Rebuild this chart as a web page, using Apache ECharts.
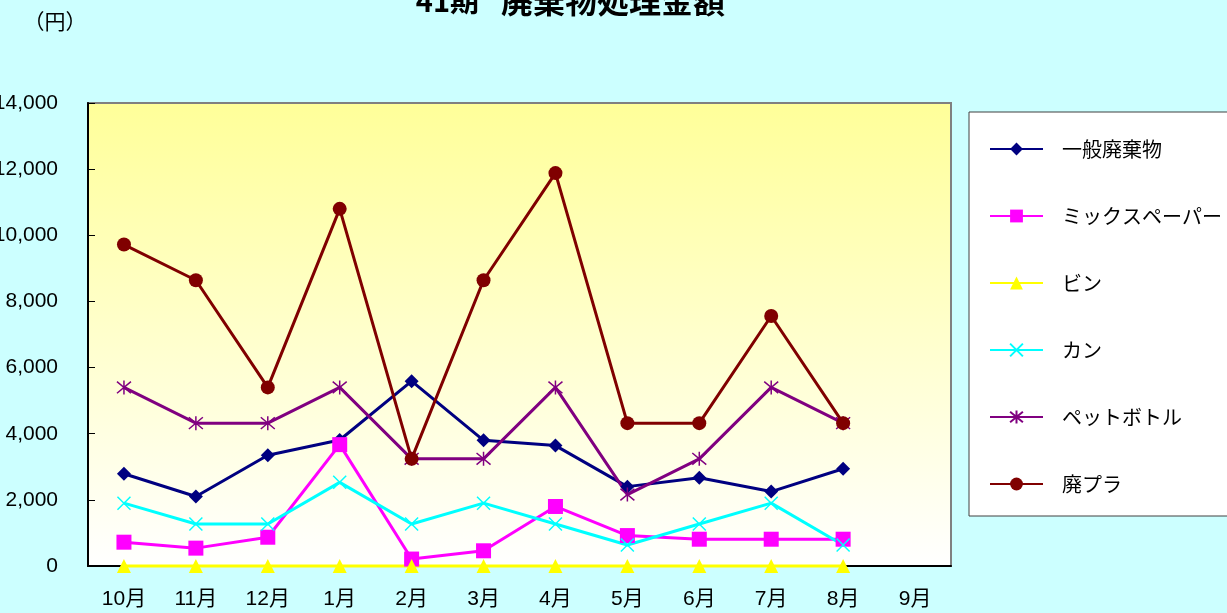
<!DOCTYPE html>
<html lang="ja">
<head>
    <meta charset="UTF-8">
    <script src="https://cdn.jsdelivr.net/npm/echarts@6/dist/echarts.min.js"></script>
    <title>41期 廃棄物処理金額</title>
    <style>
        html, body {
            margin: 0;
            padding: 0;
            background: #ccffff;
        }
        #main {
            width: 1227px;
            height: 613px;
        }
    </style>
</head>
<body>
<div id="main"></div>

<script>
    // 月（9月はまだデータなし）
    var months = ['10月', '11月', '12月', '1月', '2月', '3月', '4月', '5月', '6月', '7月', '8月', '9月']

    // 各品目の処理金額（円）
    var ippan = [2790, 2100, 3350, 3810, 5590, 3800, 3640, 2400, 2670, 2250, 2940]
    var mixPaper = [720, 540, 870, 3670, 210, 460, 1800, 920, 810, 810, 810]
    var bin = [0, 0, 0, 0, 0, 0, 0, 0, 0, 0, 0]
    var kan = [1900, 1270, 1270, 2530, 1270, 1900, 1270, 635, 1270, 1900, 635]
    var petBottle = [5400, 4320, 4320, 5400, 3240, 3240, 5400, 2160, 3240, 5400, 4320]
    var haiPura = [9720, 8640, 5400, 10800, 3240, 8640, 11880, 4320, 4320, 7560, 4320]

    var yMin = 0, yMax = 14000, yStep = 2000

    var fontFamily = "'Liberation Sans', 'Noto Sans CJK JP', sans-serif"
    var jpFont = "'Noto Sans CJK JP', sans-serif"

    var crossPath = 'path://M0,0L10,10M0,10L10,0'
    var starPath = 'path://M0,0L10,10M0,10L10,0M5,-1L5,11'

    function lineSeries(name, data, color, symbol, size, stroked) {
        return {
            name: name,
            type: 'line',
            data: data,
            symbol: symbol,
            symbolSize: size,
            showAllSymbol: true,
            clip: false,
            lineStyle: {color: color, width: 3},
            itemStyle: stroked
                ? {color: 'rgba(0,0,0,0)', borderColor: color, borderWidth: 1.5}
                : {color: color, borderWidth: 0},
            emphasis: {disabled: true}
        }
    }

    var myChart = echarts.init(document.getElementById('main'), null, {renderer: 'canvas'});

    var option = {
        backgroundColor: '#ccffff',
        animation: false,
        graphic: [
            // タイトル（上が切れている）
            {
                type: 'text',
                x: 479,
                y: 1,
                style: {
                    text: '41期',
                    font: 'bold 29px ' + jpFont,
                    fill: '#000',
                    align: 'right',
                    verticalAlign: 'middle'
                }
            },
            {
                type: 'text',
                x: 501,
                y: 1,
                style: {
                    text: '廃棄物処理金額',
                    font: 'bold 32px ' + jpFont,
                    fill: '#000',
                    align: 'left',
                    verticalAlign: 'middle'
                }
            },
            {
                type: 'text',
                x: 55,
                y: 21,
                style: {
                    text: '（円）',
                    font: '21px ' + jpFont,
                    fill: '#000',
                    align: 'center',
                    verticalAlign: 'middle'
                }
            }
        ],
        legend: {
            orient: 'vertical',
            left: 969,
            top: 112,
            padding: [27, 40, 22, 20],
            itemWidth: 53,
            itemHeight: 16,
            itemGap: 47,
            backgroundColor: '#ffffff',
            borderColor: '#404040',
            borderWidth: 1,
            textStyle: {
                fontFamily: jpFont,
                fontSize: 20,
                lineHeight: 20,
                color: '#000',
                padding: [0, 0, 0, 14]
            },
            selectedMode: false
        },
        grid: {
            left: 88,
            top: 103,
            right: 276,
            bottom: 47,
            outerBoundsMode: 'none',
            containLabel: false,
            show: true,
            borderColor: '#808080',
            borderWidth: 2,
            backgroundColor: {
                type: 'linear',
                x: 0, y: 0, x2: 0, y2: 1,
                colorStops: [
                    {offset: 0, color: '#ffff99'},
                    {offset: 1, color: '#ffffff'}
                ]
            }
        },
        xAxis: {
            type: 'category',
            data: months,
            boundaryGap: true,
            axisLine: {lineStyle: {color: '#000', width: 2}},
            axisTick: {inside: true, length: 7, lineStyle: {color: '#000', width: 1}},
            axisLabel: {
                color: '#000',
                fontFamily: fontFamily,
                fontSize: 21,
                margin: 23,
                interval: 0
            },
            splitLine: {show: false}
        },
        yAxis: {
            type: 'value',
            min: yMin,
            max: yMax,
            interval: yStep,
            axisLine: {show: true, lineStyle: {color: '#000', width: 2}},
            axisTick: {show: true, inside: true, length: 7, lineStyle: {color: '#000', width: 1}},
            axisLabel: {
                color: '#000',
                fontFamily: fontFamily,
                fontSize: 21,
                margin: 30,
                formatter: function (v) {
                    return v.toLocaleString('en-US')
                }
            },
            splitLine: {show: false}
        },
        series: [
            lineSeries('一般廃棄物', ippan, '#000080', 'diamond', 14, false),
            lineSeries('ミックスペーパー', mixPaper, '#ff00ff', 'rect', 15, false),
            lineSeries('ビン', bin, '#ffff00', 'triangle', 14, false),
            lineSeries('カン', kan, '#00ffff', crossPath, 13, true),
            lineSeries('ペットボトル', petBottle, '#800080', starPath, 14, true),
            lineSeries('廃プラ', haiPura, '#800000', 'circle', 14, false)
        ]
    };

    myChart.setOption(option);
</script>
</body>
</html>
